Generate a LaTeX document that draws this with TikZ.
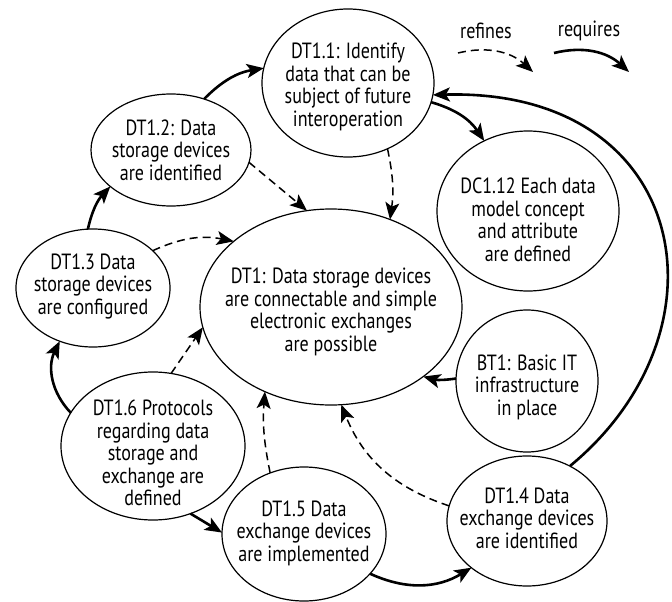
\documentclass[tikz,border=0pt]{standalone}
\usepackage{fontspec}
\setmainfont{PT Sans}[FakeStretch=0.82]
\usetikzlibrary{shapes.geometric,arrows.meta}
\begin{document}
\begin{tikzpicture}[x=1pt,y=-1pt,
  bubble/.style={ellipse,draw,line width=1.2pt,inner sep=0pt,outer sep=0pt},
  txt/.style={align=center,font=\fontsize{22}{22.5}\selectfont,inner sep=0pt},
  req/.style={line width=2.6pt,-{Stealth[length=17pt,width=14pt,inset=4pt]}},
  refn/.style={line width=1.5pt,dash pattern=on 8pt off 5pt,-{Stealth[length=17pt,width=14pt,inset=4pt]}}]
\useasboundingbox (0,0) rectangle (672,602);
% ellipses
\node[bubble,minimum width=172pt,minimum height=148pt] (dt11) at (348,83) {};
\node[bubble,minimum width=160pt,minimum height=112pt] (dt12) at (171,150) {};
\node[bubble,minimum width=154pt,minimum height=118pt] (dt13) at (93,288) {};
\node[bubble,minimum width=262pt,minimum height=196pt] (dt1) at (331,307) {};
\node[bubble,minimum width=182pt,minimum height=160pt] (dc112) at (528,211) {};
\node[bubble,minimum width=142pt,minimum height=142pt] (bt1) at (527,381) {};
\node[bubble,minimum width=160pt,minimum height=130pt] (dt14) at (527,521) {};
\node[bubble,minimum width=164pt,minimum height=134pt] (dt15) at (304,534) {};
\node[bubble,minimum width=184pt,minimum height=148pt] (dt16) at (153,446) {};
% texts
\node[txt] (t11) at (348,87) {DT1.1: Identify\\data that can be\\subject of future\\interoperation};
\node[txt] (t12) at (171,150) {DT1.2: Data\\storage devices\\are identified};
\node[txt] (t13) at (93,286) {DT1.3 Data\\storage devices\\are configured};
\node[txt] (t1) at (331,312) {DT1: Data storage devices\\are connectable and simple\\electronic exchanges\\are possible};
\node[txt] (t112) at (528,220) {DC1.12 Each data\\model concept\\and attribute\\are defined};
\node[txt] (tb1) at (527,387) {BT1: Basic IT\\infrastructure\\in place};
\node[txt] (t14) at (527,518) {DT1.4 Data\\exchange devices\\are identified};
\node[txt] (t15) at (304,533) {DT1.5 Data\\exchange devices\\are implemented};
\node[txt] (t16) at (153,453) {DT1.6 Protocols\\regarding data\\storage and\\exchange are\\defined};
% legend
\node[txt] (lref) at (486,31) {refines};
\node[txt] (lreq) at (589,31) {requires};
\coordinate (la1) at (458,53);
\coordinate (la2) at (533,72);
\coordinate (lb1) at (554,53);
\coordinate (lb2) at (629,72);
\draw[refn] (la1) to[bend left=28] (la2);
\draw[req] (lb1) to[bend left=28] (lb2);
% requires arrows
\draw[req] (dt12.57) to[bend left=18] (dt11.170);
\draw[req] (dt13.95) to[bend left=15] (dt12.211);
\draw[req] (dt16.158) to[bend left=35] (dt13.238);
\draw[req] (dt16.-61) -- (dt15.179);
\draw[req] (dt15.-31) to[bend right=28] (dt14.220);
\draw[req] (dt14.52) .. controls (735,330) and (690,88) .. (dt11.-8);
\draw[req] (dt11.-13) to[bend left=20] (dc112.122);
\draw[req] (bt1.178) to[bend left=12] (dt1.-37);
% refines arrows
\draw[refn] (dt11.-59) to[bend left=10] (dt1.56);
\draw[refn] (dt12.-9) -- (dt1.104);
\draw[refn] (dt13.32) to[bend left=18] (dt1.146);
\draw[refn] (dt16.76) -- (dt1.189);
\draw[refn] (dt15.119) to[bend left=8] (dt1.232);
\draw[refn] (dt14.169) to[bend left=25] (dt1.-84);
\end{tikzpicture}
\end{document}
